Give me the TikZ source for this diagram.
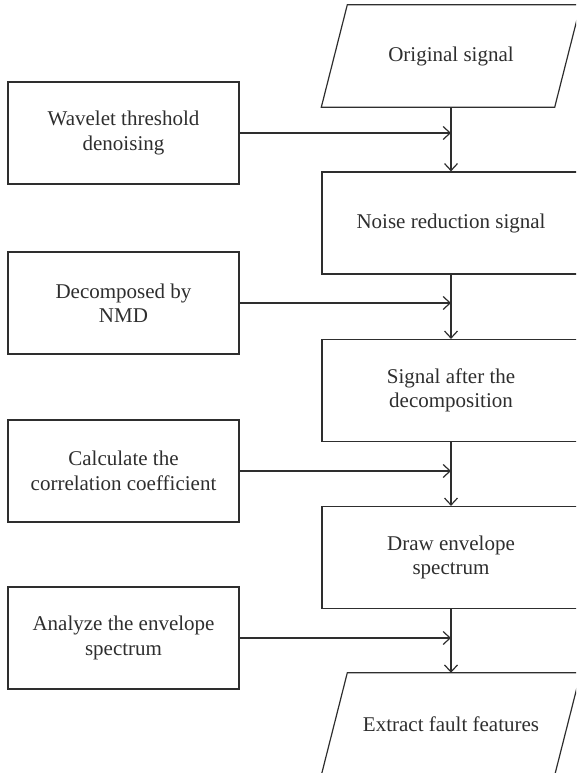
\documentclass[tikz,border=0pt]{standalone}
\usepackage{fontspec}
\setmainfont{Liberation Serif}
\usetikzlibrary{arrows.meta}
\definecolor{ink}{HTML}{2E2E2E}
\begin{document}
\begin{tikzpicture}[x=1pt,y=-1pt,
  every node/.style={font=\fontsize{21}{24.5}\selectfont, text=ink, align=center, inner sep=0pt},
  lbox/.style={draw=ink, line width=1.2pt, minimum width=231pt, minimum height=102pt},
  rbox/.style={draw=ink, line width=1.2pt, minimum width=258pt, minimum height=102pt},
  para/.style={draw=none, minimum width=233pt, minimum height=102pt},
  outline/.style={draw=ink, line width=1.2pt, line join=miter},
  conn/.style={draw=ink, line width=1.2pt, -{Straight Barb[length=7pt,width=13pt]}}
]
\clip (0,0) rectangle (576,773);
% right column
\node[para] (orig) at (451,56) {Original signal};
\draw[outline] ([xshift=-13pt]orig.south west) -- ([xshift=13pt]orig.north west) -- ([xshift=13pt]orig.north east) -- ([xshift=-13pt]orig.south east) -- cycle;
\node[rbox] (nr) at (451,223) {Noise reduction signal};
\node[rbox] (sd) at (451,390.5) {Signal after the\\decomposition};
\node[rbox] (de) at (451,557.5) {Draw envelope\\spectrum};
\node[para] (ex) at (451,724) {Extract fault features};
\draw[outline] ([xshift=-13pt]ex.south west) -- ([xshift=13pt]ex.north west) -- ([xshift=13pt]ex.north east) -- ([xshift=-13pt]ex.south east) -- cycle;
% left column
\node[lbox] (w) at (123.5,133) {Wavelet threshold\\denoising};
\node[lbox] (d) at (123.5,303) {Decomposed by\\NMD};
\node[lbox] (c) at (123.5,471) {Calculate the\\correlation coefficient};
\node[lbox] (a) at (123.5,638) {Analyze the envelope\\spectrum};
% connectors
\draw[conn] (orig.south) -- (nr.north);
\draw[conn] (nr.south) -- (sd.north);
\draw[conn] (sd.south) -- (de.north);
\draw[conn] (de.south) -- (ex.north);
\draw[conn] (w.east) -- (w.east -| orig.south);
\draw[conn] (d.east) -- (d.east -| orig.south);
\draw[conn] (c.east) -- (c.east -| orig.south);
\draw[conn] (a.east) -- (a.east -| orig.south);
\end{tikzpicture}
\end{document}
